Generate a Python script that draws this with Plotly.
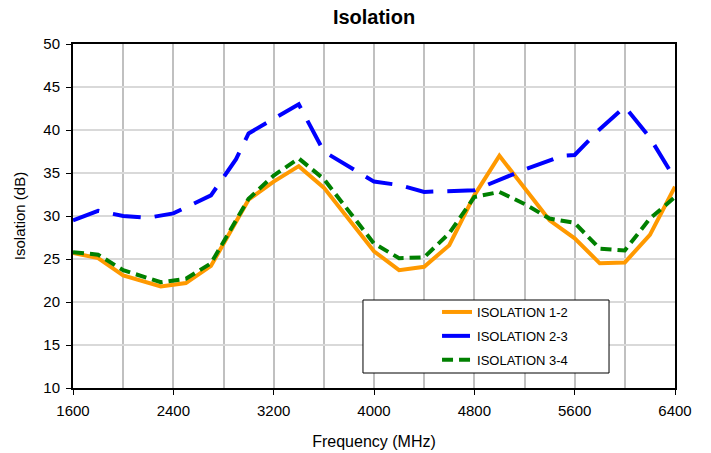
import plotly.graph_objects as go

# Frequencies (MHz) and isolation values (dB)
freq_12 = [1600, 1800, 2000, 2300, 2500, 2700, 3000, 3200, 3400, 3600, 4000, 4200, 4400,
           4600, 4800, 5000, 5400, 5600, 5800, 6000, 6200, 6400]
iso_12 = [25.7, 25.1, 23.1, 21.8, 22.2, 24.2, 31.9, 34.0, 35.8, 33.3, 25.9, 23.7, 24.1,
          26.6, 32.4, 37.0, 29.5, 27.4, 24.5, 24.6, 27.8, 33.4]

freq_23 = [1600, 1800, 2000, 2200, 2400, 2700, 2900, 3000, 3400, 3600, 4000, 4200, 4400,
           4600, 4800, 5200, 5500, 5600, 5800, 6000, 6200, 6400]
iso_23 = [29.5, 30.6, 30.0, 29.8, 30.3, 32.4, 36.6, 39.6, 43.0, 37.5, 34.0, 33.6, 32.8,
          32.9, 33.0, 35.4, 37.0, 37.1, 40.1, 42.7, 39.1, 34.3]

freq_34 = [1600, 1800, 2000, 2300, 2500, 2700, 3000, 3200, 3400, 3600, 4000, 4200, 4400,
           4600, 4800, 5000, 5200, 5400, 5600, 5800, 6000, 6200, 6400]
iso_34 = [25.8, 25.5, 23.7, 22.3, 22.7, 24.5, 32.0, 34.7, 36.7, 34.3, 26.8, 25.1, 25.2,
          28.0, 32.2, 32.8, 31.4, 29.7, 29.2, 26.2, 26.0, 29.7, 32.2]

series_names = ["ISOLATION 1-2", "ISOLATION 2-3", "ISOLATION 3-4"]

x_ticks = [1600, 2400, 3200, 4000, 4800, 5600, 6400]
y_ticks = [10, 15, 20, 25, 30, 35, 40, 45, 50]

FONT = "Arial, 'Liberation Sans', Helvetica, sans-serif"

# page body has an 8px margin, so the figure is sized/offset to fill the 711x453 window
W, H = 703, 445

fig = go.Figure()
fig.add_trace(go.Scatter(x=freq_12, y=iso_12, mode="lines", name=series_names[0],
                         legendgroup="a",
                         line=dict(color="#FF9900", width=4)))
fig.add_trace(go.Scatter(x=freq_23, y=iso_23, mode="lines", name=series_names[1],
                         legendgroup="b",
                         line=dict(color="#0000FF", width=4, dash="28px,14px")))
fig.add_trace(go.Scatter(x=freq_34, y=iso_34, mode="lines", name=series_names[2],
                         legendgroup="c",
                         line=dict(color="#008000", width=4, dash="11px,6px")))

# legend frame (drawn as a box behind the legend entries)
fig.add_shape(type="rect", xref="paper", yref="paper",
              x0=0.4817, x1=0.8904, y0=0.0436, y1=0.2558,
              fillcolor="white", line=dict(color="black", width=1), layer="above")

fig.update_layout(
    width=W, height=H,
    margin=dict(l=65, r=36, t=36, b=65, autoexpand=False),
    paper_bgcolor="white", plot_bgcolor="white",
    font=dict(family=FONT, color="black", size=15),
    title=dict(text="<b>Isolation</b>", x=0.5, xref="paper", xanchor="center",
               y=1 - 2 / H, yref="container", yanchor="top",
               font=dict(family=FONT, size=20, color="black"),
               automargin=False),
    showlegend=True,
    legend=dict(x=0.6047, y=0.2645, xanchor="left", yanchor="top",
                bgcolor="rgba(0,0,0,0)", borderwidth=0,
                font=dict(family=FONT, size=13, color="black"),
                tracegroupgap=4),
)

fig.update_xaxes(
    range=[1600, 6400], tickvals=x_ticks, ticktext=[str(v) for v in x_ticks],
    showline=True, linecolor="black", linewidth=2, mirror=True,
    ticks="outside", ticklen=5, tickcolor="black", tickwidth=1,
    showgrid=True, gridcolor="#C0C0C0", gridwidth=2,
    minor=dict(dtick=400, tick0=1600, showgrid=True, gridcolor="#C0C0C0", gridwidth=2),
    zeroline=False, automargin=False, ticklabelstandoff=3,
    title=dict(text="Frequency (MHz)", font=dict(family=FONT, size=16), standoff=18),
    tickfont=dict(family=FONT, size=15),
)
fig.update_yaxes(
    range=[10, 50], tickvals=y_ticks,
    showline=True, linecolor="black", linewidth=2, mirror=True,
    ticks="outside", ticklen=5, tickcolor="black", tickwidth=1,
    showgrid=True, gridcolor="#D9D9D9", gridwidth=1.5,
    zeroline=False, automargin=False, ticklabelstandoff=3,
    title=dict(text="Isolation (dB)", font=dict(family=FONT, size=15), standoff=14),
    tickfont=dict(family=FONT, size=15),
)

fig.write_html("out.html")
